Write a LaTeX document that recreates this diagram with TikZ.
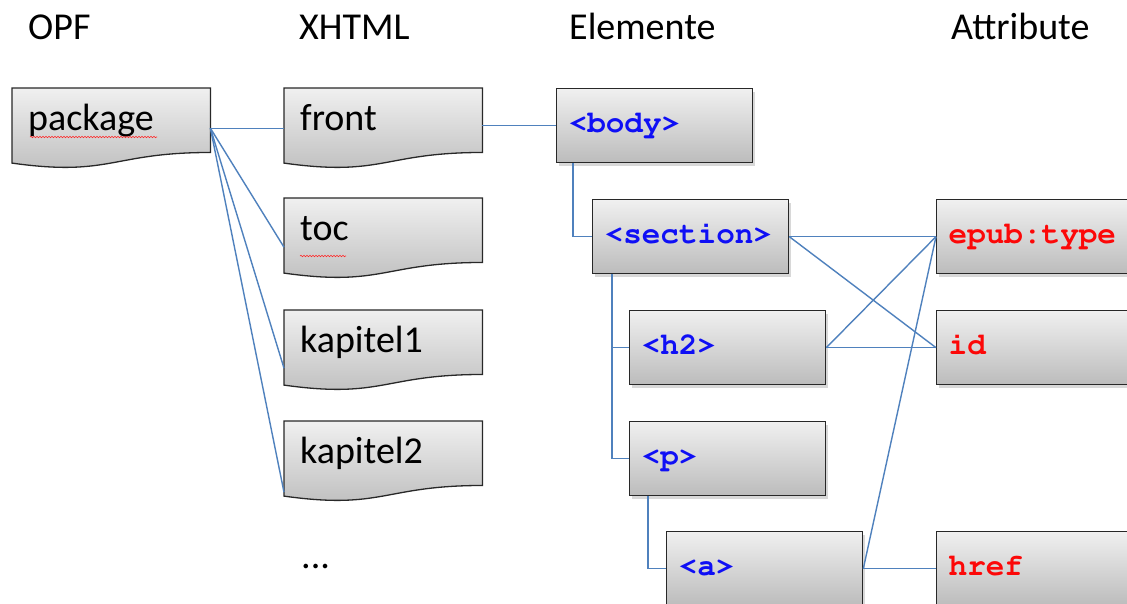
\documentclass[tikz,border=0pt]{standalone}
\usepackage[T1]{fontenc}
\usepackage{fontspec}
\newfontfamily\calib{Carlito}
\newcommand\courb{\fontencoding{T1}\fontfamily{pcr}\fontseries{b}\fontshape{n}\selectfont}
\usetikzlibrary{shadows,backgrounds,calc,decorations.pathmorphing}
\definecolor{lnblue}{RGB}{79,129,189}
\definecolor{gtop}{RGB}{240,240,240}
\definecolor{gbot}{RGB}{188,188,188}
\definecolor{bordc}{RGB}{40,40,40}
\definecolor{tagblue}{RGB}{15,15,245}
\definecolor{attred}{RGB}{252,8,8}
\newcommand\docwave[1]{%
  \begin{pgfonlayer}{background}
  \path[docshadow,shift={(2,3)}] let \p1=(#1.north west), \p2=(#1.south east) in
    (\x1,\y1) -- (\x2,\y1) -- (\x2,{\y1+0.802*(\y2-\y1)})
    .. controls ({0.5*(\x1+\x2)},{\y1+0.802*(\y2-\y1)}) and ({0.5*(\x1+\x2)},{\y1+1.107*(\y2-\y1)}) ..
    (\x1,{\y1+0.934*(\y2-\y1)}) -- cycle;
  \path[docfill] let \p1=(#1.north west), \p2=(#1.south east) in
    (\x1,\y1) -- (\x2,\y1) -- (\x2,{\y1+0.802*(\y2-\y1)})
    .. controls ({0.5*(\x1+\x2)},{\y1+0.802*(\y2-\y1)}) and ({0.5*(\x1+\x2)},{\y1+1.107*(\y2-\y1)}) ..
    (\x1,{\y1+0.934*(\y2-\y1)}) -- cycle;
  \end{pgfonlayer}}
\begin{document}
\begin{tikzpicture}[x=1pt,y=-1pt,
  hdr/.style={font=\calib\fontsize{38}{41}\selectfont, anchor=base west, inner sep=0pt},
  docnode/.style={anchor=north west, minimum width=198pt, minimum height=80pt,
    inner xsep=16pt, inner ysep=0pt, text width=166pt, align=left,
    text height=42pt, text depth=38pt, font=\calib\fontsize{38}{41}\selectfont},
  elem/.style={anchor=north west, draw=bordc, line width=1.3pt, top color=gtop, bottom color=gbot,
    drop shadow={shadow xshift=2pt, shadow yshift=-3pt, opacity=0.3},
    minimum width=196pt, minimum height=74pt, inner xsep=12pt, inner ysep=0pt,
    text width=172pt, align=left, text height=44pt, text depth=30pt,
    font=\courb\fontsize{31}{33}\selectfont},
  tag/.style={elem, text=tagblue},
  att/.style={elem, text=attred},
  conn/.style={draw=lnblue, line width=1.4pt},
  docfill/.style={draw=bordc, line width=1.3pt, top color=gtop, bottom color=gbot},
  docshadow/.style={fill=black, opacity=0.22},
  squig/.style={draw=red!85, line width=0.6pt, decorate, decoration={snake, amplitude=0.7pt, segment length=3pt}},
]
\useasboundingbox (0,0) rectangle (1127,603);
\clip (0,0) rectangle (1127,603);
\begin{pgfonlayer}{background}
\fill[white] (0,0) rectangle (1127,603);
\end{pgfonlayer}

% headers
\node[hdr] (hopf) at (28,39) {OPF};
\node[hdr] (hxhtml) at (299,39) {XHTML};
\node[hdr] (helem) at (569,39) {Elemente};
\node[hdr] (hattr) at (951,39) {Attribute};

% document shapes
\node[docnode] (package) at (12,88) {package};
\node[docnode] (front) at (284,88) {front};
\node[docnode] (toc) at (284,198) {toc};
\node[docnode] (kap1) at (284,310) {kapitel1};
\node[docnode] (kap2) at (284,421) {kapitel2};
\node[hdr] (dots) at (301,568) {...};
\docwave{package}
\docwave{front}
\docwave{toc}
\docwave{kap1}
\docwave{kap2}
\draw[squig] ([xshift=18pt,yshift=-49pt]package.north west) -- ([xshift=145pt,yshift=-49pt]package.north west);
\draw[squig] ([xshift=16pt,yshift=-58pt]toc.north west) -- ([xshift=62pt,yshift=-58pt]toc.north west);

% element boxes
\node[tag] (body) at (556,88) {<body>};
\node[tag] (section) at (592,199) {<section>};
\node[tag] (h2) at (629,310) {<h2>};
\node[tag] (p) at (629,421) {<p>};
\node[tag] (a) at (666,531) {<a>};
\node[att] (epub) at (936,199) {epub:type};
\node[att] (id) at (936,310) {id};
\node[att] (href) at (936,531) {href};

% connectors
\draw[conn] (package.east) -- (front.west);
\draw[conn] (package.east) -- ([yshift=-9pt]toc.west);
\draw[conn] (package.east) -- ([yshift=-18pt]kap1.west);
\draw[conn] (package.east) -- ([yshift=-31pt]kap2.west);
\draw[conn] (front.east |- body.west) -- (body.west);
\draw[conn] ([xshift=17pt]body.south west) |- (section.west);
\draw[conn] ([xshift=20pt]section.south west) |- (h2.west);
\draw[conn] ([xshift=20pt]section.south west) |- (p.west);
\draw[conn] ([xshift=19pt]p.south west) |- (a.west);
\draw[conn] (section.east) -- (epub.west);
\draw[conn] (section.east) -- (id.west);
\draw[conn] (h2.east) -- (epub.west);
\draw[conn] (h2.east) -- (id.west);
\draw[conn] (a.east) -- (epub.west);
\draw[conn] (a.east) -- (href.west);
\end{tikzpicture}
\end{document}
